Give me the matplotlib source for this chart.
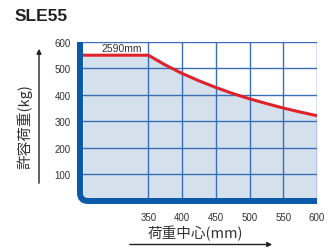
import matplotlib
matplotlib.use("Agg")
import matplotlib.pyplot as plt
from matplotlib.path import Path
from matplotlib.patches import PathPatch

# load center (mm) vs allowable load (kg)
load_center = [253, 350, 375, 400, 425, 450, 475, 500, 525, 550, 575, 600]
allow_load = [550, 550, 513, 481, 453, 428, 405, 385, 367, 350, 335, 321]
x_ticks = [350, 400, 450, 500, 550, 600]
y_ticks = [100, 200, 300, 400, 500, 600]

W, H = 336, 251
BLUE = "#0b5aa8"
GRID = "#3a6fb5"
RED = "#e0222c"
FILL = "#d4e1ed"
TXT = "#333333"

plt.rcParams['font.family'] = ['Liberation Sans', 'Noto Sans CJK JP', 'DejaVu Sans']

fig = plt.figure(figsize=(W / 100, H / 100), dpi=100)


def fx(px):
    return px / W


def fy(py):
    return 1 - py / H


ax = fig.add_axes([fx(83), fy(201.5), fx(317) - fx(83), fy(43) - fy(201.5)])
ax.set_xlim(load_center[0], 600)
ax.set_ylim(0, 600)

ax.fill_between(load_center, allow_load, 0, color=FILL, lw=0, zorder=1)
for x in x_ticks:
    ax.axvline(x, color=GRID, lw=1.0, zorder=2)
for y in y_ticks:
    ax.axhline(y, color=GRID, lw=1.0, zorder=2)
ax.plot(load_center, allow_load, color=RED, lw=2.2, zorder=3, solid_capstyle='butt')
ax.text(310, 557, "2590mm", ha='center', va='bottom', fontsize=7.5, color=TXT)

for s in ax.spines.values():
    s.set_visible(False)
ax.set_xticks(x_ticks)
ax.set_yticks(y_ticks)
ax.tick_params(length=0, labelsize=7, colors=TXT)
ax.tick_params(axis='x', pad=8)
ax.tick_params(axis='y', pad=9)

# thick blue frame with rounded corner
verts = [(fx(80), fy(43)), (fx(80), fy(194)), (fx(80), fy(202)), (fx(88), fy(202)),
         (fx(317), fy(202))]
codes = [Path.MOVETO, Path.LINETO, Path.CURVE3, Path.CURVE3, Path.LINETO]
fig.patches.append(PathPatch(Path(verts, codes), transform=fig.transFigure,
                             fill=False, edgecolor=BLUE, lw=4.3, capstyle='butt'))

fig.text(fx(15), fy(21), "SLE55", fontsize=12.5, fontweight='bold', color='#222222')

fig.text(fx(195), fy(233), "荷重中心(mm)", ha='center', va='center', fontsize=10.5, color=TXT,
         family=['Noto Sans CJK JP', 'DejaVu Sans'])
fig.text(fx(25), fy(127), "許容荷重(kg)", ha='center', va='center', rotation=90, fontsize=10.5,
         color=TXT, family=['Noto Sans CJK JP', 'DejaVu Sans'])

fig.add_artist(plt.Annotation("", xy=(fx(275), fy(245.5)), xytext=(fx(127), fy(245.5)),
                              xycoords='figure fraction',
                              arrowprops=dict(arrowstyle='-|>', color='#222222', lw=1,
                                              mutation_scale=7)))
fig.add_artist(plt.Annotation("", xy=(fx(39), fy(47)), xytext=(fx(39), fy(187)),
                              xycoords='figure fraction',
                              arrowprops=dict(arrowstyle='-|>', color='#222222', lw=1,
                                              mutation_scale=7)))

fig.savefig("out.png", dpi=100)
